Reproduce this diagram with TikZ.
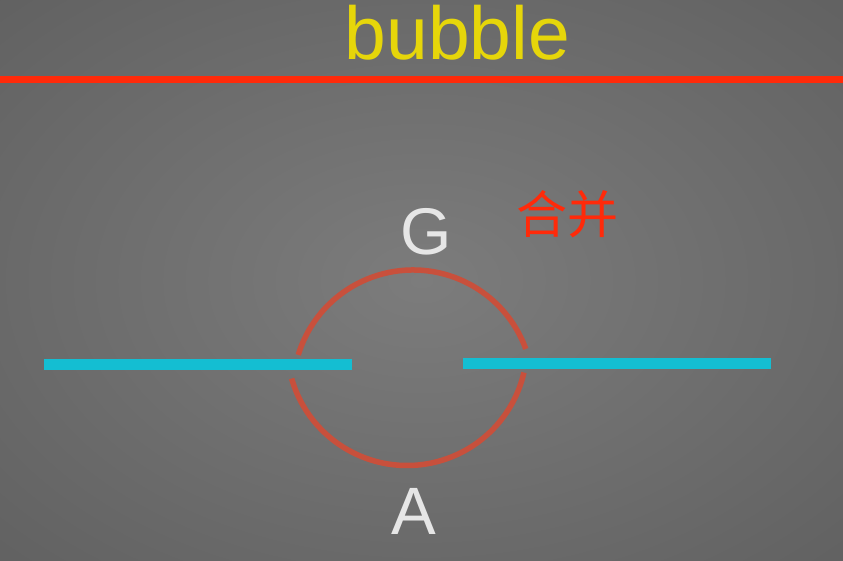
\documentclass[tikz,border=0pt]{standalone}
\usepackage{fontspec}
\setmainfont{Liberation Sans}
\newfontfamily\cjk{Noto Sans CJK SC}
\definecolor{bgin}{HTML}{7C7C7C}
\definecolor{bgmid}{HTML}{585858}
\definecolor{bgout}{HTML}{424242}
\definecolor{titleyellow}{HTML}{E6D60A}
\definecolor{rulered}{HTML}{FF2A0A}
\definecolor{arcred}{HTML}{C8503C}
\definecolor{barcyan}{HTML}{14BED2}
\definecolor{lettergray}{HTML}{E6E6E6}
\pgfdeclareradialshading{bgglow}{\pgfpoint{0bp}{0bp}}{color(0bp)=(bgin); color(48bp)=(bgmid); color(68bp)=(bgout)}

\begin{document}
\begin{tikzpicture}[x=1pt,y=1pt,
  arcline/.style={arcred, line width=5.5pt},
  barline/.style={barcyan, line width=11pt},
  letter/.style={lettergray, inner sep=0pt, anchor=base, font=\fontsize{66}{70}\selectfont}]
\shade [shading=bgglow] (0,0) rectangle (843,561);
\useasboundingbox (0,0) rectangle (843,561);
% title and rule
\node (title) [titleyellow, inner sep=0pt, anchor=base, font=\fontsize{75}{80}\selectfont] at (457.5,501) {bubble};
\draw [rulered, line width=7pt] (0,481.5) -- (843,481.5);
\node (merge) [rulered, inner sep=0pt, font=\cjk\fontsize{51}{54}\selectfont] at (567,347) {合并};
% the two half bubbles
\draw [arcline] (413,171) ++(163:120) arc (163:20:120);
\draw [arcline] (407,215.5) ++(196:120) arc (196:347:120);
% the two bars
\draw [barline] (44,196.5) -- (352,196.5);
\draw [barline] (463,197.5) -- (771,197.5);
\node (g) [letter] at (426,306) {G};
\node (a) [letter, font=\fontsize{67}{70}\selectfont] at (414,26) {A};
\end{tikzpicture}
\end{document}
